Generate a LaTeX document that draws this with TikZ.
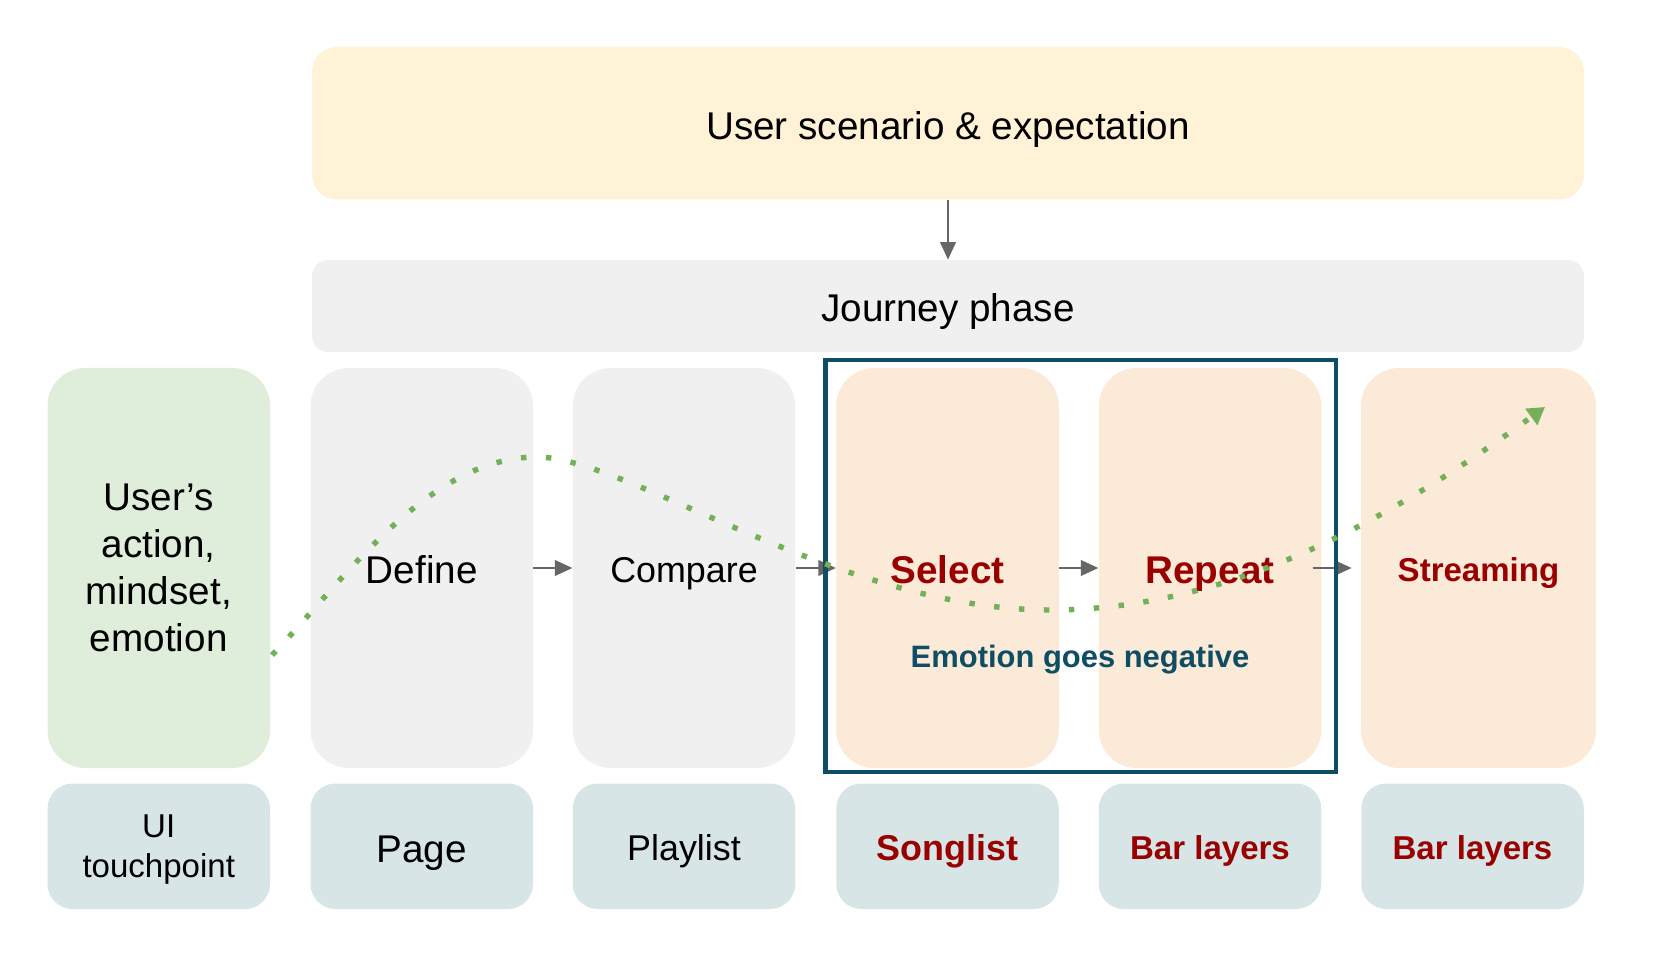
\documentclass[tikz,border=0pt]{standalone}
\usepackage{fontspec}
\setmainfont{Liberation Sans}
\usepackage{xcolor}
\usepackage{tikz}
\usetikzlibrary{arrows.meta}
\definecolor{scenario}{HTML}{FFF2D6}
\definecolor{phasegray}{HTML}{F0F0F0}
\definecolor{mindgreen}{HTML}{DFEDDB}
\definecolor{painorange}{HTML}{FCEAD8}
\definecolor{touchblue}{HTML}{D8E5E6}
\definecolor{darkred}{HTML}{990000}
\definecolor{frameteal}{HTML}{0E4D64}
\definecolor{curvegreen}{HTML}{74B05A}
\definecolor{arrowgray}{HTML}{666666}

\begin{document}
\begin{tikzpicture}[
  stage/.style={rounded corners=0.76cm, minimum width=4.45cm, minimum height=8cm, align=center, inner sep=0pt},
  touch/.style={fill=touchblue, rounded corners=0.5cm, minimum width=4.45cm, minimum height=2.51cm, align=center, inner sep=0pt},
  band/.style={rounded corners=#1, minimum width=25.44cm, inner sep=0pt},
  flow/.style={draw=arrowgray, line width=1.2pt, -{Triangle[length=0.35cm,width=0.31cm]}},
  oneline/.style={text height=#1, text depth=0pt},
  txtL/.style={font=\fontsize{22}{26.7}\selectfont, oneline=18pt},
  txtM/.style={font=\fontsize{20.4}{24}\selectfont, oneline=16.7pt},
  txtS/.style={font=\fontsize{18.8}{22.8}\selectfont, oneline=15.4pt},
  hot/.style={text=darkred, execute at begin node=\bfseries}
]
\useasboundingbox (0,0) rectangle (33.08,-19.12);

\node[band=0.5cm, fill=scenario, minimum height=3.05cm, txtL] (scen) at (18.96,-2.465) {User scenario \& expectation};
\node[band=0.32cm, fill=phasegray, minimum height=1.84cm, txtL] (phase) at (18.96,-6.12) {Journey phase};
\draw[flow] (scen) -- (phase);

\node[stage, fill=mindgreen, font=\fontsize{22}{26.7}\selectfont] (mind) at (3.175,-11.36) {User’s\\action,\\mindset,\\emotion};
\node[stage, fill=phasegray, txtL] (define) at (8.435,-11.36) {Define};
\node[stage, fill=phasegray, txtM] (compare) at (13.68,-11.36) {Compare};
\node[stage, fill=painorange, txtL, hot] (select) at (18.95,-11.36) {Select};
\node[stage, fill=painorange, txtL, hot] (repeat) at (24.2,-11.36) {Repeat};
\node[stage, fill=painorange, minimum width=4.7cm, txtS, hot] (stream) at (29.57,-11.36) {Streaming};

\foreach \a/\b in {define/compare, compare/select, select/repeat}
    \draw[flow] (\a) -- (\b);
\draw[flow] ([xshift=-0.18cm]repeat.east) -- ([xshift=-0.18cm]stream.west);

\node[touch, font=\fontsize{18.8}{22.8}\selectfont, text depth=0pt] (ui) at (3.175,-16.925) {UI\\touchpoint};
\node[touch, txtL] (page) at (8.435,-16.925) {Page};
\node[touch, txtM] (playlist) at (13.68,-16.925) {Playlist};
\node[touch, txtM, hot] (songlist) at (18.95,-16.925) {Songlist};
\node[touch, txtS, hot] (barsA) at (24.2,-16.925) {Bar layers};
\node[touch, txtS, hot] (barsB) at (29.45,-16.925) {Bar layers};

\draw[frameteal, line width=2.3pt] (16.51,-7.2) rectangle (26.72,-15.44);
\node[text=frameteal, font=\fontsize{17.6}{21}\selectfont\bfseries, oneline=14.4pt] (neg) at (21.6,-13.1) {Emotion goes negative};

\coordinate (emostart) at (5.44,-13.1);
\coordinate (emotop) at (10.74,-9.14);
\coordinate (emolow) at (21.0,-12.2);
\coordinate (emoend) at (30.9,-8.14);
\draw[curvegreen, line width=3.1pt, dash pattern=on 3.1pt off 11.1pt, -{Triangle[length=0.34cm,width=0.39cm]}]
    (emostart) .. controls (6.84,-11.66) and (8.54,-9.14) .. (emotop)
    .. controls (12.54,-9.14) and (16.8,-12.2) .. (emolow)
    .. controls (24.6,-12.2) and (27.8,-10.4) .. (emoend);
\end{tikzpicture}
\end{document}
